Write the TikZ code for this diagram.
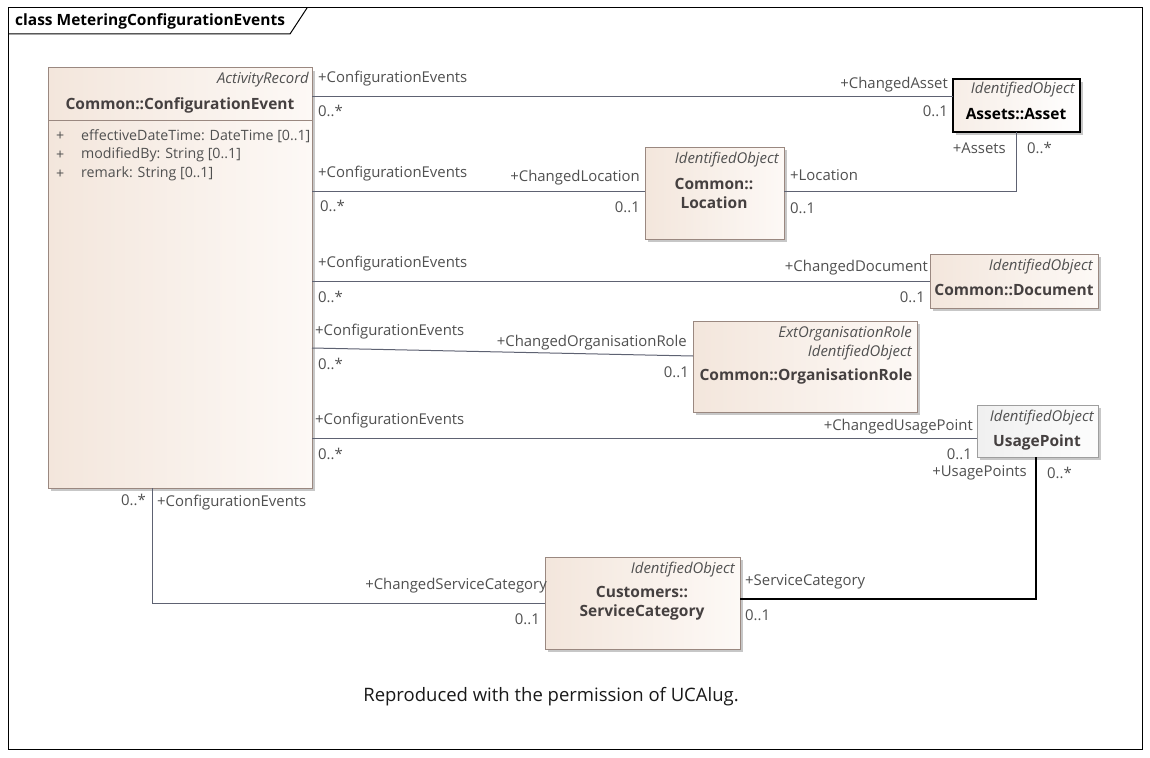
\documentclass[tikz,border=0pt]{standalone}
\usepackage{fontspec}
\setmainfont{Open Sans}
\usetikzlibrary{shadows,calc}
\definecolor{lnc}{HTML}{5E6272}
\definecolor{labc}{HTML}{505050}
\definecolor{namec}{HTML}{454040}
\definecolor{bordc}{HTML}{9A8880}
\definecolor{fillL}{HTML}{F3E6DC}
\definecolor{fillR}{HTML}{FDF9F6}
\tikzset{
  cls/.style={draw=bordc, line width=1pt, left color=fillL, right color=fillR, inner sep=0pt, outer sep=0pt, anchor=north west,
    drop shadow={shadow xshift=3pt, shadow yshift=-3pt, fill=black!22, opacity=1}},
  clsgrey/.style={cls, draw=black!38, left color=black!6, right color=black!1},
  clsasset/.style={cls, draw=black, line width=1.6pt, left color=fillL!70, right color=white},
  assoc/.style={draw=lnc, line width=1pt},
  assocb/.style={draw=black, line width=1.3pt},
  lbl/.style={inner sep=0pt, text=labc, font=\fontsize{14.9}{17}\selectfont},
  attr/.style={inner sep=0pt, text=labc, font=\fontsize{14.2}{17}\selectfont},
  stereo/.style={inner sep=0pt, text=labc, font=\fontsize{14.9}{17}\selectfont\itshape},
  cname/.style={inner sep=0pt, text=namec, font=\fontsize{15.5}{19}\selectfont\bfseries, align=center},
}
\begin{document}
\begin{tikzpicture}[x=1pt,y=-1pt]
\useasboundingbox[fill=white] (0,0) rectangle (1150,757);
% frame
\draw[black, line width=1pt] (8,8) rectangle (1142,749);
\draw[black, line width=1pt] (8,34) -- (290,34) -- (307,8);
\node[inner sep=0pt, anchor=west, font=\fontsize{15.5}{17}\selectfont\bfseries] (title) at (15,21) {class MeteringConfigurationEvents};

% classes
\node[cls, minimum width=264pt, minimum height=420pt] (ce) at (48,68) {};
\draw[bordc, line width=1pt] (ce.north west |- 0,121) -- (ce.north east |- 0,121);
\node[stereo, anchor=east] (ceS) at (309,80) {ActivityRecord};
\node[cname] (ceN) at (180,105) {Common::ConfigurationEvent};
\node[attr, anchor=west] (ceP1) at (56,136) {+};
\node[attr, anchor=west] (ceP2) at (56,155) {+};
\node[attr, anchor=west] (ceP3) at (56,174) {+};
\node[attr, anchor=west] (ceA1) at (81,136) {effectiveDateTime: DateTime [0..1]};
\node[attr, anchor=west] (ceA2) at (81,155) {modifiedBy: String [0..1]};
\node[attr, anchor=west] (ceA3) at (81,174) {remark: String [0..1]};

\node[clsasset, minimum width=127pt, minimum height=53pt] (asset) at (953,79) {};
\node[stereo, anchor=east] (assetS) at (1075,90) {IdentifiedObject};
\node[cname, text=black] (assetN) at (1016,114) {Assets::Asset};

\node[cls, minimum width=139pt, minimum height=92pt] (loc) at (645,147) {};
\node[stereo, anchor=east] (locS) at (779,160) {IdentifiedObject};
\node[cname] (locN) at (714,193) {Common::\\Location};

\node[cls, minimum width=168pt, minimum height=54pt] (doc) at (930,254) {};
\node[stereo, anchor=east] (docS) at (1093,267) {IdentifiedObject};
\node[cname] (docN) at (1014,290) {Common::Document};

\node[cls, minimum width=224pt, minimum height=91pt] (org) at (693,321) {};
\node[stereo, anchor=east] (orgS1) at (912,334) {ExtOrganisationRole};
\node[stereo, anchor=east] (orgS2) at (912,353) {IdentifiedObject};
\node[cname] (orgN) at (806,376) {Common::OrganisationRole};

\node[clsgrey, minimum width=121pt, minimum height=52pt] (up) at (977,405) {};
\node[stereo, anchor=east] (upS) at (1094,418) {IdentifiedObject};
\node[cname] (upN) at (1037,442) {UsagePoint};

\node[cls, minimum width=195pt, minimum height=92pt] (sc) at (545,557) {};
\node[stereo, anchor=east] (scS) at (735,570) {IdentifiedObject};
\node[cname] (scN) at (642,603) {Customers::\\ServiceCategory};

% connectors
\draw[assoc] (ce.east |- 0,97) -- (asset.west |- 0,97);
\node[lbl, anchor=west] (l1a) at (318,79) {+ConfigurationEvents};
\node[lbl, anchor=west] (l1b) at (318,111) {0..*};
\node[lbl, anchor=east] (l1c) at (948,85) {+ChangedAsset};
\node[lbl, anchor=east] (l1d) at (948,111) {0..1};

\draw[assoc] (ce.east |- 0,191) -- (loc.west |- 0,191);
\node[lbl, anchor=west] (l2a) at (318,174) {+ConfigurationEvents};
\node[lbl, anchor=west] (l2b) at (320,206) {0..*};
\node[lbl, anchor=east] (l2c) at (640,178) {+ChangedLocation};
\node[lbl, anchor=east] (l2d) at (640,207) {0..1};

\draw[assoc] (loc.east |- 0,191) -- (1016,191) -- (asset.south -| 1016,0);
\node[lbl, anchor=west] (l3a) at (790,175) {+Location};
\node[lbl, anchor=west] (l3b) at (790,208) {0..1};
\node[lbl, anchor=east] (l3c) at (1006,148) {+Assets};
\node[lbl, anchor=west] (l3d) at (1027,148) {0..*};

\draw[assoc] (ce.east |- 0,281) -- (doc.west |- 0,281);
\node[lbl, anchor=west] (l4a) at (318,264) {+ConfigurationEvents};
\node[lbl, anchor=west] (l4b) at (318,297) {0..*};
\node[lbl, anchor=east] (l4c) at (928,268) {+ChangedDocument};
\node[lbl, anchor=east] (l4d) at (925,297) {0..1};

\draw[assoc] (ce.east |- 0,348) -- (org.west |- 0,356);
\node[lbl, anchor=west] (l5a) at (315,332) {+ConfigurationEvents};
\node[lbl, anchor=west] (l5b) at (318,364) {0..*};
\node[lbl, anchor=east] (l5c) at (687,343) {+ChangedOrganisationRole};
\node[lbl, anchor=east] (l5d) at (689,372) {0..1};

\draw[assoc] (ce.east |- 0,438) -- (up.west |- 0,438);
\node[lbl, anchor=west] (l6a) at (315,421) {+ConfigurationEvents};
\node[lbl, anchor=west] (l6b) at (318,454) {0..*};
\node[lbl, anchor=east] (l6c) at (973,427) {+ChangedUsagePoint};
\node[lbl, anchor=east] (l6d) at (972,454) {0..1};

\draw[assocb] (up.south -| 1036,0) -- (1036,599) -- (sc.east |- 0,599);
\node[lbl, anchor=east] (l7a) at (1027,473) {+UsagePoints};
\node[lbl, anchor=west] (l7b) at (1047,473) {0..*};
\node[lbl, anchor=west] (l7c) at (745,582) {+ServiceCategory};
\node[lbl, anchor=west] (l7d) at (745,615) {0..1};

\draw[assoc] (ce.south -| 152,0) -- (152,603) -- (sc.west |- 0,603);
\node[lbl, anchor=east] (l8a) at (146,500) {0..*};
\node[lbl, anchor=west] (l8b) at (157,503) {+ConfigurationEvents};
\node[lbl, anchor=east] (l8c) at (547,586) {+ChangedServiceCategory};
\node[lbl, anchor=east] (l8d) at (540,619) {0..1};

\node[inner sep=0pt, font=\fontsize{18.5}{21}\selectfont, text=black!90] (note) at (551,697) {Reproduced with the permission of UCAlug.};
\end{tikzpicture}
\end{document}
